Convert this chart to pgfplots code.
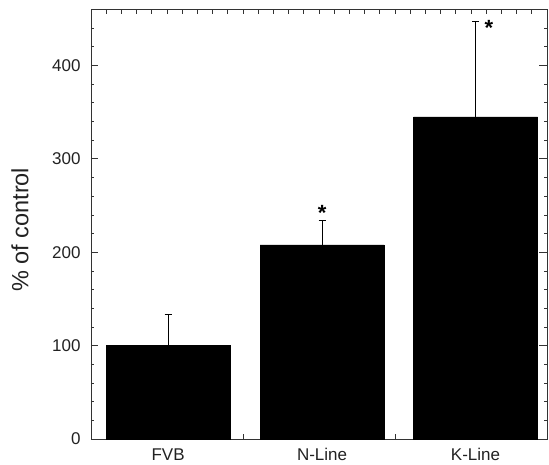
\documentclass[border=0pt]{standalone}
\usepackage{fontspec}
\setmainfont{Liberation Sans}
\usepackage{pgfplots}
\pgfplotsset{compat=1.18}

\definecolor{txt}{HTML}{222222}
\definecolor{spine}{HTML}{333333}

\begin{document}
\begin{tikzpicture}
% bars with upper error bars
\begin{axis}[
  at={(0,0)}, anchor=south west,
  scale only axis,
  width=456pt, height=429.5pt,
  xmin=0, xmax=3, ymin=0, ymax=460,
  axis line style={spine, line width=0.9pt},
  ytick={0,100,200,300,400},
  minor ytick={20,40,60,80,120,140,160,180,220,240,260,280,320,340,360,380,420,440},
  major tick length=7.5pt, minor tick length=3.5pt,
  tick style={spine, line width=0.8pt},
  xtick={0.507,1.52,2.53},
  xticklabels={FVB,N-Line,K-Line},
  x tick style={draw=none},
  /pgf/number format/assume math mode=true,
  tick label style={font=\fontsize{17}{17}\selectfont, text=txt},
  yticklabel style={xshift=-7pt},
  xticklabel style={anchor=base, inner sep=0pt, yshift=-14pt},
  ylabel={\% of control},
  every axis y label/.style={at={(rel axis cs:0,0.487)}, xshift=-71pt,
    rotate=90, anchor=center, font=\fontsize{23.5}{23.5}\selectfont, text=txt},
  ybar, bar width=124pt,
  clip=false,
]
\addplot[fill=black, draw=black,
  error bars/.cd, y dir=plus, y explicit,
  error bar style={line width=1pt, black},
  error mark options={rotate=90, mark size=3.5pt, line width=1pt, black}]
  coordinates {
  (0.507,100) +- (0,33)
  (1.52,208) +- (0,25.6)
  (2.53,345) +- (0,102)
};
\node[anchor=base, text=black, font=\fontsize{22}{22}\selectfont\bfseries] at (axis cs:1.52,233.8) {*};
\node[anchor=base, text=black, font=\fontsize{22}{22}\selectfont\bfseries] at (axis cs:2.618,432) {*};
\end{axis}
% bottom category separator ticks
\begin{axis}[
  at={(0,0)}, anchor=south west,
  scale only axis,
  width=456pt, height=429.5pt,
  xmin=0, xmax=3, ymin=0, ymax=460,
  axis line style={draw=none},
  ytick=\empty,
  xtick={1,2}, xticklabels={},
  xtick pos=lower,
  major tick length=5pt,
  tick style={spine, line width=0.8pt},
]
\end{axis}
% top minor ticks
\begin{axis}[
  at={(0,0)}, anchor=south west,
  scale only axis,
  width=456pt, height=429.5pt,
  xmin=0, xmax=3, ymin=0, ymax=460,
  axis line style={draw=none},
  ytick=\empty,
  xtick={0.1,0.2,0.3,0.4,0.5,0.6,0.7,0.8,0.9,1,1.1,1.2,1.3,1.4,1.5,1.6,1.7,1.8,1.9,2,2.1,2.2,2.3,2.4,2.5,2.6,2.7,2.8,2.9},
  xticklabels={},
  xtick pos=upper,
  major tick length=5pt,
  tick style={spine, line width=0.8pt},
]
\end{axis}
\pgfresetboundingbox
\path[use as bounding box] (-91pt,-26pt) rectangle (458pt,439pt);
\end{tikzpicture}
\end{document}
